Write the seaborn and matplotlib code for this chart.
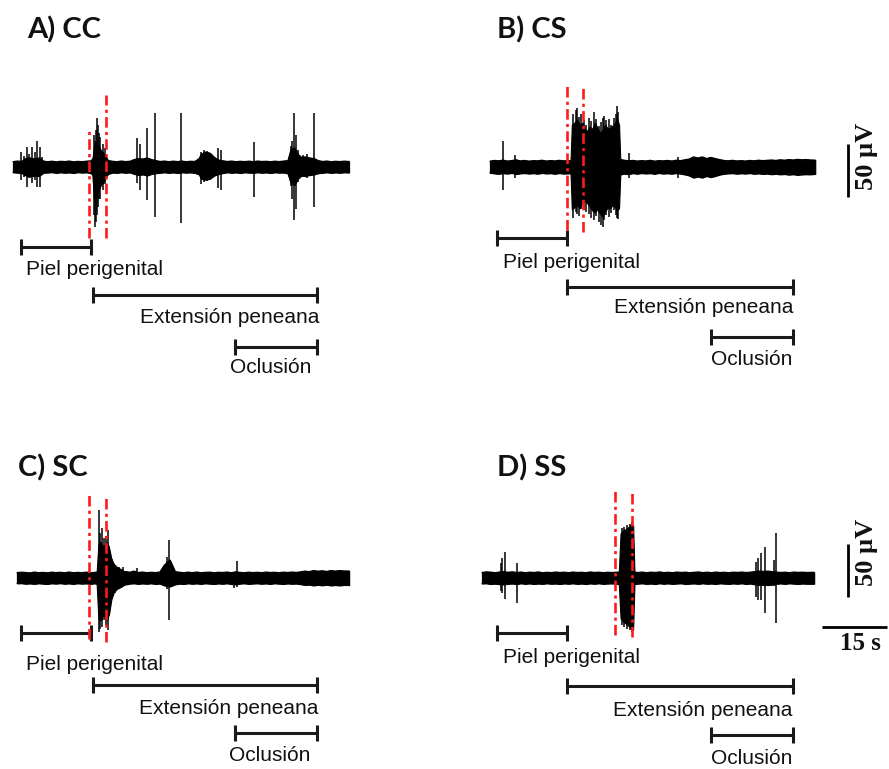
import numpy as np
import pandas as pd
import matplotlib
matplotlib.use("Agg")
import matplotlib.pyplot as plt
import seaborn as sns

sns.set_theme(style="white")
plt.rcParams['font.family'] = ['Liberation Sans', 'DejaVu Sans']

# ---------------- DATA (time in s, amplitude in µV) ----------------
# Panel A) CC
A_env_t = [0, 1, 2, 3, 4, 5, 6, 7, 8, 9, 10, 11, 12, 13, 14, 15, 16, 17, 18, 20, 22, 23, 24, 25,
           26, 27, 28, 29, 30, 31, 32, 33, 34, 35, 36, 37, 38, 39, 40, 41, 42, 43, 43.5, 44.5,
           45.5, 46.5, 47.5, 48.5, 49.5, 50.5, 51.5, 52.5, 53.5, 54.5, 55.5, 56.5, 57.5, 58.5,
           59.5, 60.5, 61.5, 62.5, 63.5, 64.2, 65.0, 65.8, 66.6, 67.5, 68.5, 69.5, 70.5, 71.5,
           72.5, 73.5, 74.5, 75.5, 76.5, 77.6]
A_env_hi = [5.0, 5.6, 5.2, 8, 8.5, 7.5, 8.5, 5.6, 5.0, 5.5, 4.8, 5.4, 5.1, 5.6, 4.9, 5.3, 5.0,
            5.5, 5.8, 14, 6.0, 5.4, 5.0, 5.6, 5.1, 5.4, 7.0, 8.0, 7.5, 8.5, 7.0, 6.0, 5.2, 5.6,
            5.0, 5.5, 5.1, 5.6, 5.0, 5.4, 5.2, 8, 12, 14, 13, 9, 6.5, 5.8, 5.2, 5.6, 5.0, 5.4,
            5.1, 5.5, 5.0, 5.6, 5.2, 5.4, 5.0, 5.5, 5.1, 5.6, 6.0, 16, 18, 12, 9, 9.5, 8.5, 8.0,
            6.0, 5.2, 5.6, 5.0, 5.4, 5.1, 5.5, 5.2]
A_env_lo = [-5.0, -5.3, -5.6, -8, -9, -8, -8.5, -5.4, -5.2, -4.9, -5.5, -5.0, -5.4, -5.1, -5.6,
            -4.9, -5.3, -5.0, -5.8, -14, -6.5, -5.2, -5.5, -5.0, -5.4, -5.1, -6.5, -7.5, -7.0,
            -8.0, -6.5, -5.8, -5.4, -5.0, -5.5, -5.1, -5.6, -5.0, -5.3, -5.1, -5.5, -7, -11, -12,
            -11, -8, -6.5, -5.6, -5.0, -5.4, -5.1, -5.6, -5.0, -5.3, -5.5, -5.0, -5.4, -5.1,
            -5.6, -5.0, -5.3, -5.2, -6.0, -15, -17, -11, -8, -8.5, -7.5, -7.0, -5.8, -5.4, -5.0,
            -5.5, -5.1, -5.4, -5.0, -5.2]
A_burst_t = [18.3, 18.7, 19.2, 19.7, 20.3, 20.9, 21.5, 21.9]
A_burst_hi = [6, 20, 24, 20, 16, 13, 10, 6]
A_burst_lo = [-6, -30, -28, -22, -17, -14, -10, -6]
A_spk_t = [1.8, 2.6, 3.2, 3.8, 4.4, 5.0, 5.5, 6.2, 6.8, 18.7, 18.9, 19.1, 19.4, 19.6, 19.9,
           20.2, 20.8, 21.3, 28.6, 29.3, 30.9, 32.8, 38.8, 43.5, 44.0, 44.8, 45.5, 47.3, 48.0,
           55.7, 64.2, 64.4, 64.9, 65.4, 65.8, 67.0, 68.0, 69.5]
A_spk_hi = [14, 10, 19, 12, 19, 14, 25, 19, 9, 30, 25, 35, 46, 40, 32, 28, 22, 18, 27, 22, 37,
            51, 51, 14, 16, 15, 12, 18, 16, 24, 20, 25, 51, 30, 16, 11, 12, 51]
A_spk_lo = [-12, -9, -19, -10, -15, -12, -19, -19, -8, -45, -57, -52, -45, -38, -30, -30, -22,
            -16, -15, -22, -31, -47, -53, -16, -14, -13, -10, -20, -22, -28, -18, -30, -50, -40,
            -14, -9, -10, -38]
A_red = [(17.6, -67, 35), (21.5, -67, 68)]

# Panel B) CS
B_env_t = [0, 1, 2, 3, 4, 5, 6, 7, 8, 9, 10, 11, 12, 13, 14, 15, 16, 17, 18, 18.7, 30.1, 31,
           32, 33, 34, 35, 36, 37, 38, 39, 40, 41, 42, 43, 44, 45, 46, 47, 48, 49, 50, 51, 52,
           53, 54, 55, 56, 57, 58, 59, 60, 61, 62, 63, 64, 65, 66, 67, 68, 69, 70, 71, 72, 73,
           74, 75.1]
B_env_hi = [5.5, 6.2, 5.8, 6.5, 5.6, 6.0, 6.8, 5.7, 6.2, 5.5, 6.0, 5.8, 6.4, 5.6, 6.1, 5.7, 6.3,
            5.8, 6.0, 6, 7, 6.4, 5.8, 6.2, 5.6, 6.0, 5.7, 6.3, 5.5, 6.0, 5.8, 6.2, 5.6, 6.4, 6.0,
            6.8, 7.5, 9.5, 8.5, 9.5, 8.0, 9.0, 8.0, 7.0, 6.2, 5.8, 6.3, 5.7, 6.0, 5.6, 6.2, 5.8,
            6.4, 6.0, 6.3, 6.6, 6.2, 6.8, 6.4, 7.0, 6.6, 7.2, 6.8, 7.0, 6.6, 6.5]
B_env_lo = [-5.5, -6.0, -6.4, -5.8, -6.2, -5.6, -6.6, -6.0, -5.7, -6.2, -5.8, -6.3, -5.6, -6.1,
            -5.8, -6.4, -5.7, -6.2, -6.0, -6, -7, -6.2, -6.6, -5.8, -6.3, -5.7, -6.1, -5.8, -6.4,
            -5.6, -6.2, -5.9, -6.3, -5.7, -6.2, -7.0, -8, -10, -9, -10, -8.5, -9.5, -8.5, -7.2,
            -6.4, -6.0, -5.8, -6.3, -5.9, -6.2, -5.7, -6.4, -6.0, -6.5, -6.2, -6.8, -6.4, -6.9,
            -6.6, -7.2, -6.8, -7.4, -7.0, -6.8, -6.9, -6.5]
B_burst_t = [18.6, 18.9, 19.5, 20.1, 20.7, 21.3, 21.9, 22.4, 23.0, 23.6, 24.2, 24.8, 25.4, 26.0,
             26.6, 27.2, 27.7, 28.3, 28.9, 29.3, 29.8, 30.1]
B_burst_hi = [6, 40, 42, 45, 40, 42, 36, 34, 38, 36, 42, 37, 32, 35, 40, 36, 37, 39, 42, 46, 40, 6]
B_burst_lo = [-6, -40, -38, -36, -39, -34, -32, -34, -37, -41, -43, -40, -44, -47, -42, -38,
              -39, -36, -38, -41, -39, -6]
B_spk_t = [3.0, 5.8, 19.2, 19.8, 20.1, 20.5, 21.0, 21.6, 22.2, 22.8, 23.3, 24.0, 24.5, 25.1,
           25.7, 26.1, 26.4, 26.9, 27.5, 28.0, 28.6, 29.0, 29.3, 29.6, 32.1, 43.4]
B_spk_hi = [25, 11, 50, 54, 56, 47, 50, 44, 40, 46, 43, 52, 45, 39, 42, 46, 48, 44, 45, 40, 46,
            50, 58, 52, 13, 9]
B_spk_lo = [-22, -10, -48, -42, -44, -46, -40, -41, -42, -44, -48, -50, -46, -52, -55, -57, -50,
            -45, -47, -43, -41, -45, -48, -49, -10, -10]
B_red = [(17.8, -59, 77), (21.5, -61, 75)]

# Panel C) SC
C_env_t = [0, 1, 2, 3, 4, 5, 6, 7, 8, 9, 10, 11, 12, 13, 14, 15, 16, 17, 18, 18.4, 25.2, 26,
           27, 28, 29, 30, 31, 32, 33, 34, 35.3, 36.5, 37.5, 38.5, 39.5, 40.5, 41.5, 42.5, 43.5,
           44.5, 45.5, 46.5, 47.5, 48.5, 49.5, 50.5, 51.5, 52.5, 53.5, 54.5, 55.5, 56.5, 57.5,
           58.5, 59.5, 60.5, 61.5, 62.5, 63.5, 64.5, 65.5, 66.5, 67.5, 68.5, 69.5, 70.5, 71.5,
           72.5, 73.5, 74.5, 75.5, 76.7]
C_env_hi = [5.0, 5.5, 5.2, 4.8, 5.6, 5.0, 5.3, 4.9, 5.5, 5.1, 5.4, 4.9, 5.6, 5.0, 5.3, 5.1, 5.5,
            5.0, 5.3, 5.5, 6, 5.4, 6.5, 5.2, 5.6, 5.0, 5.4, 5.1, 5.6, 12, 17, 6, 5.4, 5.0, 5.5,
            5.1, 5.6, 5.0, 5.3, 5.5, 5.0, 5.4, 5.2, 5.6, 5.0, 5.8, 5.3, 5.0, 5.5, 5.1, 5.4, 5.0,
            5.6, 5.2, 5.4, 5.0, 5.5, 5.2, 5.6, 5.3, 5.8, 6.5, 6.0, 7.0, 6.4, 6.8, 6.2, 7.0, 6.5,
            7.0, 6.6, 6.6]
C_env_lo = [-5.0, -4.9, -5.4, -5.1, -5.5, -5.0, -5.3, -5.6, -5.0, -5.3, -4.9, -5.4, -5.1, -5.5,
            -5.0, -5.3, -5.1, -5.5, -5.0, -5.5, -6, -5.3, -5.0, -5.5, -5.1, -5.4, -5.0, -5.6,
            -5.2, -7, -8, -6, -5.3, -5.6, -5.0, -5.4, -5.1, -5.5, -5.0, -5.3, -5.6, -5.1, -5.4,
            -5.0, -5.6, -6.0, -5.3, -5.0, -5.5, -5.2, -5.0, -5.4, -5.1, -5.5, -5.0, -5.3, -5.6,
            -5.1, -5.4, -5.2, -5.8, -6.5, -6.2, -7.0, -6.4, -6.9, -6.3, -7.0, -6.6, -7.0, -6.5,
            -6.6]
C_burst_t = [18.4, 18.8, 19.3, 19.8, 20.3, 20.8, 21.3, 21.8, 22.4, 23.2, 24.2, 25.2]
C_burst_hi = [6, 32, 34, 30, 31, 34, 28, 18, 13, 10, 8, 5]
C_burst_lo = [-6, -38, -40, -35, -37, -40, -33, -20, -13, -10, -8, -5]
C_spk_t = [18.9, 19.2, 19.6, 20.0, 20.5, 21.0, 21.3, 22.0, 22.6, 23.5, 24.5, 27.7, 34.6, 35.1,
           50.0, 50.8]
C_spk_hi = [64, 42, 47, 38, 40, 45, 30, 18, 12, 10, 10, 9, 20, 36, 6, 16]
C_spk_lo = [-51, -48, -46, -40, -44, -49, -36, -20, -14, -10, -7, -6, -10, -40, -9, -8.5]
C_red = [(16.6, -58, 80), (20.6, -60, 78)]

# Panel D) SS
D_env_t = [0, 1, 2, 3, 4, 5, 6, 7, 8, 9, 10, 11, 12, 13, 14, 15, 16, 17, 18, 19, 20, 21, 22,
           23, 24, 25, 26, 27, 28, 29, 30, 31.6, 35.2, 36, 37, 38, 39, 40, 41, 42, 43, 44, 45,
           46, 47, 48, 49, 50, 51, 52, 53, 54, 55, 56, 57, 58, 59, 60, 61, 62, 63, 64, 65, 66,
           67, 68, 69, 70, 71, 72, 73, 74, 75, 76.7]
D_env_hi = [5.2, 5.8, 5.5, 5.0, 5.6, 6.0, 5.4, 5.8, 5.2, 5.6, 5.0, 5.5, 5.2, 5.7, 5.0, 5.4, 5.1,
            5.6, 5.2, 5.5, 5.0, 5.6, 5.2, 5.4, 5.0, 5.7, 5.2, 5.5, 5.0, 5.4, 5.2, 5.6, 5.6, 5.2,
            5.6, 5.0, 5.5, 5.2, 5.7, 5.1, 5.4, 5.0, 5.6, 5.2, 5.5, 5.0, 5.4, 5.7, 5.1, 5.5, 5.0,
            5.6, 5.2, 5.4, 5.0, 5.5, 5.3, 5.6, 5.2, 5.5, 6.0, 6.5, 6.2, 6.5, 6.0, 5.6, 5.2, 5.5,
            5.0, 5.6, 5.3, 5.5, 5.2, 5.4]
D_env_lo = [-5.2, -5.0, -5.6, -5.3, -5.8, -6.0, -5.4, -5.2, -5.7, -5.0, -5.5, -5.1, -5.6, -5.2,
            -5.5, -5.0, -5.4, -5.2, -5.6, -5.1, -5.4, -5.0, -5.5, -5.2, -5.6, -5.1, -5.4, -5.0,
            -5.5, -5.2, -5.1, -5.6, -5.6, -5.3, -5.0, -5.5, -5.2, -5.6, -5.0, -5.4, -5.1, -5.5,
            -5.2, -5.0, -5.6, -5.3, -5.1, -5.5, -5.0, -5.4, -5.2, -5.6, -5.0, -5.3, -5.5, -5.1,
            -5.4, -5.0, -5.6, -5.2, -6.0, -6.5, -6.4, -6.6, -6.2, -5.4, -5.1, -5.5, -5.0, -5.3,
            -5.6, -5.2, -5.4, -5.4]
D_burst_t = [31.6, 32.0, 32.6, 33.2, 33.8, 34.4, 34.9, 35.2]
D_burst_hi = [6, 42, 45, 46, 48, 50, 50, 6]
D_burst_lo = [-6, -38, -41, -43, -45, -47, -49, -6]
D_spk_t = [4.4, 4.6, 5.3, 8.1, 32.3, 32.9, 33.5, 34.1, 34.7, 63.3, 63.7, 64.4, 65.4, 67.4, 67.9]
D_spk_hi = [14, 19, 25, 14, 47, 48, 50, 51, 53, 15, 19, 24, 29, 17, 42]
D_spk_lo = [-12, -14, -20, -24, -44, -46, -48, -49, -51, -18, -21, -21, -33, -8, -42]
D_red = [(30.7, -54, 83), (34.6, -56, 80)]

# Stimulus periods (start s, end s, level µV)
A_bars = [(1.8, 18.0, -75), (18.5, 70.2, -121), (51.3, 70.2, -170)]
B_bars = [(1.6, 17.8, -67), (17.8, 70.0, -113), (51.0, 70.0, -160)]
C_bars = [(0.9, 17.1, -52), (17.6, 69.3, -101), (50.3, 69.3, -146)]
D_bars = [(3.5, 19.6, -52), (19.6, 71.8, -102), (52.9, 71.8, -148)]
bar_labels = ["Piel perigenital", "Extensión peneana", "Oclusión"]
titles = ["A) CC", "B) CS", "C) SC", "D) SS"]

# ---------------- LAYOUT ----------------
W, H = 889, 769
PX_S, PX_UV = 4.33, 1.06          # pixels per second / per µV
XL, YL = (-4, 96), (-205, 145)

fig = plt.figure(figsize=(W / 100, H / 100), dpi=100)


def make_ax(x0, base):
    left = x0 + XL[0] * PX_S
    bottom_px = base - YL[0] * PX_UV
    ax = fig.add_axes([left / W, 1 - bottom_px / H,
                       (XL[1] - XL[0]) * PX_S / W, (YL[1] - YL[0]) * PX_UV / H])
    ax.set_xlim(*XL)
    ax.set_ylim(*YL)
    ax.set_axis_off()
    ax.patch.set_alpha(0)
    return ax


def draw_panel(ax, env_t, env_hi, env_lo, bt, bhi, blo, st, shi, slo, reds, bars, label_pos):
    ax.fill_between(env_t, env_lo, env_hi, color="black", lw=0.9, zorder=2)
    df = pd.DataFrame({"t": env_t, "hi": env_hi, "lo": env_lo})
    sns.lineplot(data=df, x="t", y="hi", ax=ax, color="black", lw=0.9, zorder=2)
    sns.lineplot(data=df, x="t", y="lo", ax=ax, color="black", lw=0.9, zorder=2)
    ax.fill_between(bt, blo, bhi, color="black", lw=0.8, zorder=3)
    ax.vlines(st, slo, shi, color="black", lw=1.1, zorder=3)
    for (t, y0, y1) in reds:
        ax.plot([t, t], [y0, y1], color="#ff1a1a", lw=1.9,
                linestyle=(0, (4, 1.6, 1.2, 1.6)), zorder=5)
    for (t0, t1, y) in bars:
        ax.errorbar([(t0 + t1) / 2], [y], xerr=[(t1 - t0) / 2], fmt="none",
                    ecolor="#1a1a1a", elinewidth=2.2, capsize=5.8, capthick=2.2, zorder=4)
    for txt, (x, y, ha) in zip(bar_labels, label_pos):
        ax.text(x, y, txt, ha=ha, va="center", fontsize=15, color="#111111",
                family=["Liberation Sans", "DejaVu Sans"])
    ax.set_xlabel("")
    ax.set_ylabel("")


axA = make_ax(13, 167)
draw_panel(axA, A_env_t, A_env_hi, A_env_lo, A_burst_t, A_burst_hi, A_burst_lo,
           A_spk_t, A_spk_hi, A_spk_lo, A_red, A_bars,
           [(3.0, -97, "left"), (70.7, -142, "right"), (59.4, -189, "center")])
axB = make_ax(490, 167)
draw_panel(axB, B_env_t, B_env_hi, B_env_lo, B_burst_t, B_burst_hi, B_burst_lo,
           B_spk_t, B_spk_hi, B_spk_lo, B_red, B_bars,
           [(3.0, -90, "left"), (70.0, -133, "right"), (60.5, -182, "center")])
axC = make_ax(17, 578)
draw_panel(axC, C_env_t, C_env_hi, C_env_lo, C_burst_t, C_burst_hi, C_burst_lo,
           C_spk_t, C_spk_hi, C_spk_lo, C_red, C_bars,
           [(2.1, -82, "left"), (69.7, -123, "right"), (58.4, -167, "center")])
axD = make_ax(482, 578)
draw_panel(axD, D_env_t, D_env_hi, D_env_lo, D_burst_t, D_burst_hi, D_burst_lo,
           D_spk_t, D_spk_hi, D_spk_lo, D_red, D_bars,
           [(4.8, -75, "left"), (71.6, -125, "right"), (62.2, -170, "center")])

# Scale bars
serif = ["Liberation Serif", "DejaVu Serif"]
for ax, tx, y0, y1, ty in [(axB, 82.7, -28, 22, 10), (axD, 84.5, -18, 32, 24.5)]:
    ax.plot([tx, tx], [y0, y1], color="black", lw=2.0, solid_capstyle="butt")
    ax.text(tx + 4.2, ty, "50 µV", rotation=90, ha="center", va="center",
            fontsize=19, fontweight="bold", family=serif, color="#111111")
axD.plot([78.5, 93.5], [-46, -46], color="black", lw=2.0, solid_capstyle="butt")
axD.text(87.5, -62, "15 s", ha="center", va="center", fontsize=18, fontweight="bold",
         family=serif, color="#111111")

# Panel titles
for txt, (x, y) in zip(titles, [(27, 30), (497, 30), (18, 468), (497, 468)]):
    fig.text(x / W, 1 - y / H, txt, ha="left", va="center", fontsize=21, fontweight="bold",
             family=["Lato", "DejaVu Sans"], color="#111111")

fig.savefig("out.png", dpi=100, facecolor="white")
